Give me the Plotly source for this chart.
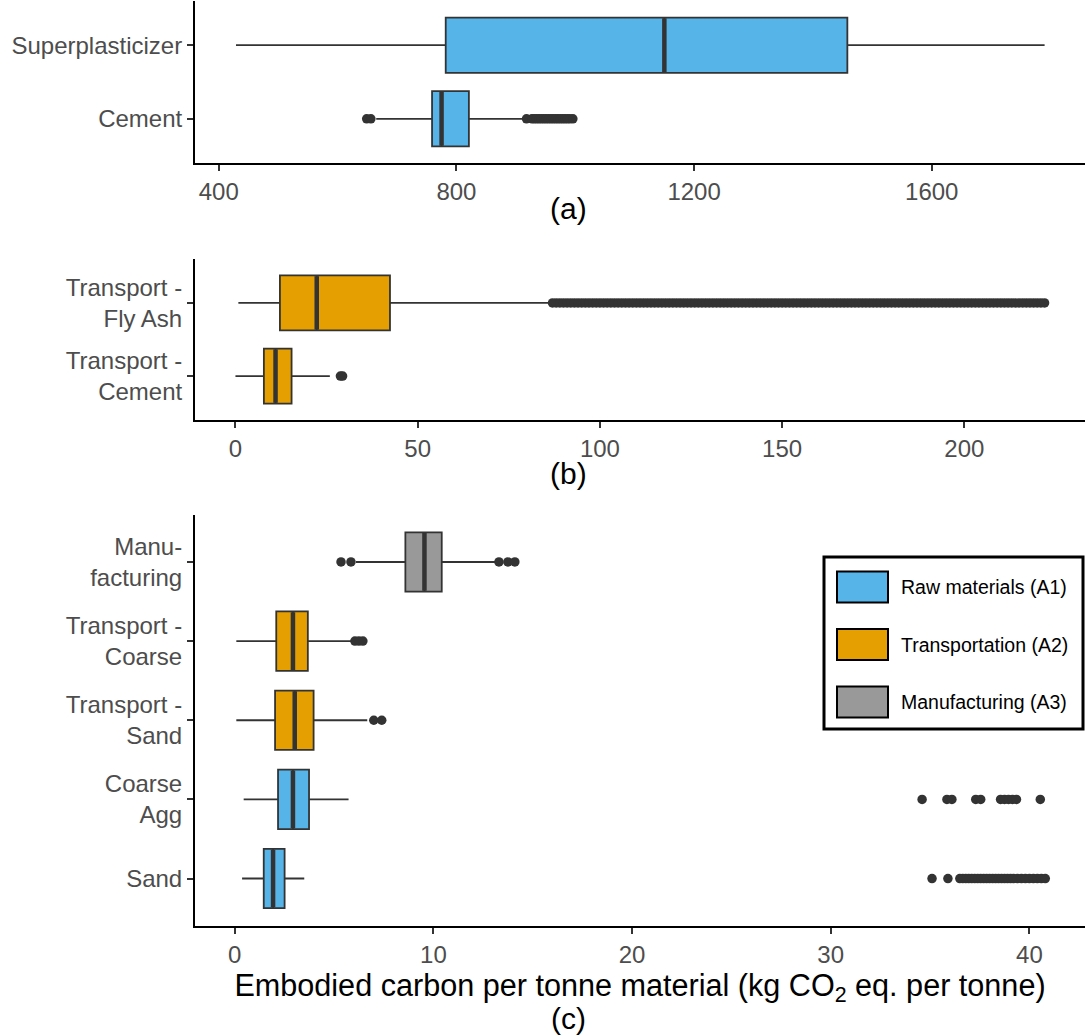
import plotly.graph_objects as go

# ---------------- data ----------------
# Panel (a)
a_labels = ["Cement", "Superplasticizer"]
a_group = ["A1", "A1"]
a_low = [665, 429]
a_q1 = [759, 782]
a_med = [775, 1150]
a_q3 = [821, 1458]
a_high = [915, 1790]
a_out_cement = [649, 656, 918, 927, 931, 935, 939, 943, 947, 951, 955, 959, 963,
                967, 971, 975, 979, 983, 987, 991, 996]
a_out_super = []
a_ticks = [400, 800, 1200, 1600]

# Panel (b)
b_labels = ["Transport -<br>Cement", "Transport -<br>Fly Ash"]
b_group = ["A2", "A2"]
b_low = [0.0, 0.8]
b_q1 = [7.8, 12.2]
b_med = [11.0, 22.3]
b_q3 = [15.4, 42.4]
b_high = [25.9, 86.6]
b_out_cement = [28.8, 29.4]
b_out_flyash = [87, 88, 89, 90, 91, 92, 93, 94, 95, 96, 97, 98, 99, 100, 101, 102,
                103, 104, 105, 106, 107, 108, 109, 110, 111, 112, 113, 114, 115, 116,
                117, 118, 119, 120, 121, 122, 123, 124, 125, 126, 127, 128, 129, 130,
                131, 132, 133, 134, 135, 136, 137, 138, 139, 140, 141, 142, 143, 144,
                145, 146, 147, 148, 149, 150, 151, 152, 153, 154, 155, 156, 157, 158,
                159, 160, 161, 162, 163, 164, 165, 166, 167, 168, 169, 170, 171, 172,
                173, 174, 175, 176, 177, 178, 179, 180, 181, 182, 183, 184, 185, 186,
                187, 188, 189, 190, 191, 192, 193, 194, 195, 196, 197, 198, 199, 200,
                201, 202, 203, 204, 205, 206, 207, 208, 209, 210, 211, 212, 213, 214,
                215, 216, 217, 218, 219, 220, 221, 222]
b_ticks = [0, 50, 100, 150, 200]

# Panel (c)
c_labels = ["Sand", "Coarse<br>Agg", "Transport -<br>Sand", "Transport -<br>Coarse", "Manu-<br>facturing"]
c_group = ["A1", "A1", "A2", "A2", "A3"]
c_low = [0.37, 0.45, 0.08, 0.08, 6.1]
c_q1 = [1.46, 2.18, 2.03, 2.09, 8.59]
c_med = [1.93, 2.93, 3.02, 2.93, 9.55]
c_q3 = [2.51, 3.74, 3.97, 3.68, 10.42]
c_high = [3.50, 5.73, 6.67, 5.95, 13.2]
c_out_sand = [35.1, 35.9, 36.5, 36.65, 36.8, 36.95, 37.1, 37.25, 37.4, 37.55, 37.7,
              37.85, 38.0, 38.15, 38.3, 38.45, 38.6, 38.75, 38.9, 39.05, 39.2, 39.4,
              39.6, 39.8, 40.0, 40.2, 40.4, 40.6, 40.8]
c_out_coarse = [34.6, 35.85, 36.1, 37.3, 37.55, 38.55, 38.75, 38.95, 39.15, 39.35, 40.55]
c_out_tsand = [7.0, 7.4]
c_out_tcoarse = [6.05, 6.25, 6.45]
c_out_manu = [5.35, 5.85, 13.3, 13.75, 14.1]
c_ticks = [0, 10, 20, 30, 40]

legend_groups = ["A1", "A2", "A3"]
legend_names = ["Raw materials (A1)", "Transportation (A2)", "Manufacturing (A3)"]

# ---------------- styles ----------------
COLORS = {"A1": "#56B4E9", "A2": "#E69F00", "A3": "#999999"}
LINE = "#333333"
FONT = "Liberation Sans, Arial, sans-serif"
W, H = 1086, 1035

fig = go.Figure()

panels = [
    dict(ax="", labels=a_labels, group=a_group, low=a_low, q1=a_q1, med=a_med,
         q3=a_q3, high=a_high, outs=[a_out_cement, a_out_super], ticks=a_ticks,
         xr=[360, 1858]),
    dict(ax="2", labels=b_labels, group=b_group, low=b_low, q1=b_q1, med=b_med,
         q3=b_q3, high=b_high, outs=[b_out_cement, b_out_flyash], ticks=b_ticks,
         xr=[-11.1, 233.1]),
    dict(ax="3", labels=c_labels, group=c_group, low=c_low, q1=c_q1, med=c_med,
         q3=c_q3, high=c_high,
         outs=[c_out_sand, c_out_coarse, c_out_tsand, c_out_tcoarse, c_out_manu],
         ticks=c_ticks, xr=[-2.0, 42.8]),
]

BOXW = 0.75
for p in panels:
    xa = "x" + p["ax"]
    ya = "y" + p["ax"]
    for i, lab in enumerate(p["labels"]):
        pos = i + 1
        col = COLORS[p["group"][i]]
        fig.add_trace(go.Box(
            y=[pos], q1=[p["q1"][i]], median=[p["med"][i]], q3=[p["q3"][i]],
            lowerfence=[p["low"][i]], upperfence=[p["high"][i]],
            orientation="h", width=BOXW, whiskerwidth=0,
            fillcolor=col, line=dict(color=LINE, width=1.8),
            boxpoints=False, showlegend=False, xaxis=xa, yaxis=ya,
        ))
        # thicker median line
        fig.add_trace(go.Scatter(
            x=[p["med"][i], p["med"][i]], y=[pos - BOXW / 2 + 0.01, pos + BOXW / 2 - 0.01],
            mode="lines", line=dict(color=LINE, width=4.5),
            showlegend=False, hoverinfo="skip", xaxis=xa, yaxis=ya,
        ))
        outs = p["outs"][i]
        if outs:
            fig.add_trace(go.Scatter(
                x=outs, y=[pos] * len(outs), mode="markers",
                marker=dict(color=LINE, size=9.5, line=dict(width=0)),
                showlegend=False, xaxis=xa, yaxis=ya,
            ))

# ---------------- axes ----------------
x_dom = [195 / W, 1085 / W]
y_doms = [
    [1 - 163 / H, 1 - 1 / H],
    [1 - 420 / H, 1 - 259 / H],
    [1 - 926 / H, 1 - 514.5 / H],
]
axis_common = dict(
    showgrid=False, zeroline=False, showline=True, linecolor="black", linewidth=2,
    ticks="outside", ticklen=6, tickwidth=1.6, tickcolor=LINE,
    tickfont=dict(family=FONT, size=24, color="#4D4D4D"),
)
layout = dict(
    width=W, height=H, margin=dict(l=0, r=0, t=0, b=0),
    paper_bgcolor="white", plot_bgcolor="white", showlegend=False,
)
for k, p in enumerate(panels):
    sfx = p["ax"]
    n = len(p["labels"])
    layout["xaxis" + sfx] = dict(
        axis_common, domain=x_dom, anchor="y" + sfx, range=p["xr"],
        tickmode="array", tickvals=p["ticks"], ticktext=[str(t) for t in p["ticks"]],
    )
    layout["yaxis" + sfx] = dict(
        axis_common, domain=y_doms[k], anchor="x" + sfx, range=[0.4, n + 0.6],
        tickmode="array", tickvals=list(range(1, n + 1)), ticktext=p["labels"],
    )
layout["xaxis"]["ticklabelstandoff"] = 0
layout["xaxis3"]["title"] = dict(
    text="Embodied carbon per tonne material (kg CO<sub>2</sub> eq. per tonne)",
    font=dict(family=FONT, size=30.6, color="black"), standoff=6,
)
fig.update_layout(**layout)

# panel labels
for txt, ypix in [("(a)", 208), ("(b)", 473), ("(c)", 1018)]:
    fig.add_annotation(text=txt, x=568 / W, y=1 - ypix / H, xref="paper", yref="paper",
                       showarrow=False, font=dict(family=FONT, size=30, color="black"),
                       xanchor="center", yanchor="middle")

# ---------------- legend (drawn manually) ----------------
fig.add_shape(type="rect", xref="paper", yref="paper",
              x0=824 / W, x1=1083 / W, y0=1 - 729 / H, y1=1 - 557 / H,
              line=dict(color="black", width=3), fillcolor="white", layer="above")
for j, (g, name) in enumerate(zip(legend_groups, legend_names)):
    yc = 587 + j * 57.5
    fig.add_shape(type="rect", xref="paper", yref="paper",
                  x0=837 / W, x1=888 / W, y0=1 - (yc + 15.5) / H, y1=1 - (yc - 15.5) / H,
                  line=dict(color="black", width=2), fillcolor=COLORS[g], layer="above")
    fig.add_annotation(text=name, x=899 / W, y=1 - yc / H, xref="paper", yref="paper",
                       showarrow=False, xanchor="left", yanchor="middle",
                       font=dict(family=FONT, size=19.5, color="black"))

fig.write_html("out.html")
